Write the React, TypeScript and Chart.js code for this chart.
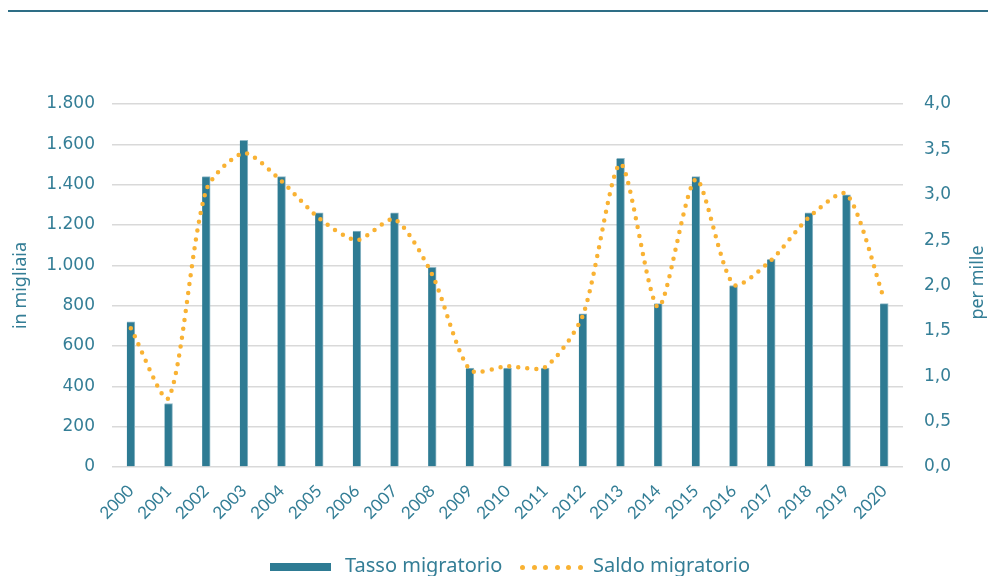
import React, { useEffect, useRef } from "react";
import { Chart, registerables } from "chart.js";

Chart.register(...registerables);

const years: string[] = [
  "2000", "2001", "2002", "2003", "2004", "2005", "2006", "2007", "2008", "2009", "2010",
  "2011", "2012", "2013", "2014", "2015", "2016", "2017", "2018", "2019", "2020",
];

// Tasso migratorio (in migliaia)
const tassoMigratorio: number[] = [
  720, 315, 1440, 1620, 1440, 1260, 1170, 1260, 990, 490, 490,
  490, 760, 1530, 810, 1440, 900, 1030, 1260, 1350, 810,
];

// Saldo migratorio (per mille)
const saldoMigratorio: number[] = [
  1.53, 0.76, 3.05, 3.46, 3.15, 2.74, 2.5, 2.73, 2.12, 1.07, 1.11,
  1.1, 1.67, 3.34, 1.76, 3.17, 2.01, 2.28, 2.75, 3.01, 1.85,
];

const leftTitle = "in migliaia";
const rightTitle = "per mille";
const legendLabels = ["Tasso migratorio", "Saldo migratorio"];

const TEAL = "#2E7B93";
const TEXT = "#347E96";
const ORANGE = "#F9B233";
const FONT = "'Noto Sans', sans-serif";
const TICK_FONT = "'DejaVu Sans', sans-serif";

const rightTitlePlugin = {
  id: "rightTitle",
  afterDraw(chart: any) {
    const ctx = chart.ctx;
    const area = chart.chartArea;
    ctx.save();
    ctx.translate(978, (area.top + area.bottom) / 2 - 3);
    ctx.rotate(-Math.PI / 2);
    ctx.font = `18px ${FONT}`;
    ctx.fillStyle = TEXT;
    ctx.textAlign = "center";
    ctx.textBaseline = "middle";
    ctx.fillText(rightTitle, 0, 0);
    ctx.restore();
  },
};

export default function App() {
  const canvasRef = useRef<HTMLCanvasElement | null>(null);

  useEffect(() => {
    document.body.style.margin = "0";
    const canvas = canvasRef.current;
    if (!canvas) return;
    const chart = new Chart(canvas, {
      type: "bar",
      data: {
        labels: years,
        datasets: [
          {
            type: "line",
            label: legendLabels[1],
            data: saldoMigratorio,
            yAxisID: "y1",
            borderColor: ORANGE,
            borderWidth: 4.5,
            borderDash: [0, 9],
            borderCapStyle: "round",
            tension: 0.25,
            pointRadius: 0,
            fill: false,
            order: 0,
          } as any,
          {
            type: "bar",
            label: legendLabels[0],
            data: tassoMigratorio,
            yAxisID: "y",
            backgroundColor: TEAL,
            borderColor: "#8FB8C6",
            borderWidth: { top: 1, left: 0, right: 1, bottom: 0 },
            barThickness: 8,
            order: 1,
          } as any,
        ],
      },
      options: {
        animation: false,
        responsive: false,
        maintainAspectRatio: false,
        layout: { padding: { top: 104, bottom: 0, left: 0, right: 0 } },
        plugins: {
          legend: { display: false },
          tooltip: { enabled: false },
        },
        scales: {
          x: {
            grid: { display: false },
            border: { display: false },
            ticks: {
              color: TEXT,
              font: { family: "Lato, sans-serif", size: 17 },
              minRotation: 45,
              maxRotation: 45,
              autoSkip: false,
              padding: 6,
            },
            afterFit(scale: any) {
              scale.height = 109;
            },
          },
          y: {
            position: "left",
            min: 0,
            max: 1800,
            grid: { color: "#D9D9D9", lineWidth: 1.5, drawTicks: false },
            border: { display: false },
            ticks: {
              stepSize: 200,
              color: TEXT,
              font: { family: TICK_FONT, size: 17 },
              padding: 17,
              callback: (v: any) => String(v).replace(/\B(?=(\d{3})+(?!\d))/g, "."),
            },
            title: {
              display: true,
              text: leftTitle,
              color: TEXT,
              font: { family: FONT, size: 18 },
              padding: { top: 10, bottom: 0 },
            },
            afterFit(scale: any) {
              scale.width = 112;
            },
          },
          y1: {
            position: "right",
            min: 0,
            max: 4,
            grid: { display: false, drawTicks: false },
            border: { display: false },
            ticks: {
              stepSize: 0.5,
              color: TEXT,
              font: { family: TICK_FONT, size: 17 },
              padding: 21,
              callback: (v: any) => Number(v).toFixed(1).replace(".", ","),
            },
            afterFit(scale: any) {
              scale.width = 85;
            },
          },
        },
      },
      plugins: [rightTitlePlugin],
    });
    return () => chart.destroy();
  }, []);

  const dots = [0, 1, 2, 3, 4, 5];

  return (
    <div style={{ position: "relative", width: 988, height: 576, overflow: "hidden", background: "#fff" }}>
      <div style={{ position: "absolute", left: 8, top: 10, width: 980, height: 2, background: "#2E6E86" }} />
      <canvas ref={canvasRef} width={988} height={576} style={{ position: "absolute", left: 0, top: 0, width: 988, height: 576 }} />
      <div style={{ position: "absolute", left: 270, top: 563, width: 61, height: 8, background: TEAL }} />
      <span style={{ position: "absolute", left: 345, top: 555, fontFamily: FONT, fontSize: 20, lineHeight: "20px", color: TEXT, whiteSpace: "nowrap" }}>
        {legendLabels[0]}
      </span>
      {dots.map((i) => (
        <div key={i} style={{ position: "absolute", left: 520 + i * 11.6, top: 565, width: 5, height: 5, borderRadius: "50%", background: ORANGE }} />
      ))}
      <span style={{ position: "absolute", left: 593, top: 555, fontFamily: FONT, fontSize: 20, lineHeight: "20px", color: TEXT, whiteSpace: "nowrap" }}>
        {legendLabels[1]}
      </span>
    </div>
  );
}
